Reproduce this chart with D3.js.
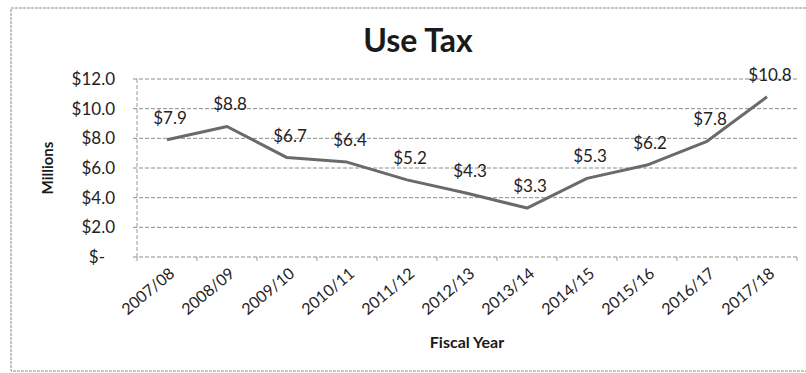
<!DOCTYPE html>
<html>
<head>
<meta charset="utf-8">
<script src="https://cdn.jsdelivr.net/npm/d3@7"></script>
<style>
  body { margin: 0; background: #fff; }
  svg { display: block; font-family: Lato, "Open Sans", sans-serif; }
</style>
</head>
<body>
<div id="chart"></div>
<script>
// Use Tax data (millions)
const years = ["2007/08", "2008/09", "2009/10", "2010/11", "2011/12", "2012/13",
               "2013/14", "2014/15", "2015/16", "2016/17", "2017/18"];
const useTax = [7.9, 8.8, 6.7, 6.4, 5.2, 4.3, 3.3, 5.3, 6.2, 7.8, 10.8];
const yTicks = [0, 2, 4, 6, 8, 10, 12];

const W = 806, H = 373;
const margin = { top: 79, right: 9, bottom: 116, left: 137 };
const width = W - margin.left - margin.right;
const height = H - margin.top - margin.bottom;

const svg = d3.select("#chart").append("svg")
    .attr("width", W)
    .attr("height", H);

// outer frame (right edge is cropped off in the original)
svg.append("path")
    .attr("d", "M" + W + ",8 H11 V371 H" + W)
    .attr("fill", "none")
    .attr("stroke", "#8a8a8a")
    .attr("stroke-width", 1)
    .attr("stroke-dasharray", "3,1");

const g = svg.append("g")
    .attr("transform", "translate(" + margin.left + "," + margin.top + ")");

const x = d3.scaleBand()
    .domain(years)
    .range([0, width]);

const y = d3.scaleLinear()
    .domain([0, 12])
    .range([height, 0]);

// gridlines
g.selectAll(".grid")
    .data(yTicks)
    .enter().append("line")
    .attr("class", "grid")
    .attr("x1", -4)
    .attr("x2", width)
    .attr("y1", d => y(d))
    .attr("y2", d => y(d))
    .attr("stroke", "#8c8c8c")
    .attr("stroke-width", 1)
    .attr("stroke-dasharray", "4,2");

// y axis line
g.append("line")
    .attr("x1", 0).attr("x2", 0)
    .attr("y1", 0).attr("y2", height)
    .attr("stroke", "#9a9a9a")
    .attr("stroke-dasharray", "4,2");

// y tick labels
g.selectAll(".ylab")
    .data(yTicks)
    .enter().append("text")
    .attr("class", "ylab")
    .attr("x", d => d === 0 ? -32 : -22)
    .attr("y", d => y(d))
    .attr("dy", "0.35em")
    .attr("text-anchor", "end")
    .attr("font-size", 17)
    .attr("fill", "#222")
    .text(d => d === 0 ? "$-" : "$" + d.toFixed(1));

// x axis tick marks at category boundaries
const bounds = years.map(d => x(d)).concat([width]);
g.selectAll(".xtick")
    .data(bounds)
    .enter().append("line")
    .attr("x1", d => d).attr("x2", d => d)
    .attr("y1", height).attr("y2", height + 4)
    .attr("stroke", "#9a9a9a");

// x tick labels
g.selectAll(".xlab")
    .data(years)
    .enter().append("text")
    .attr("class", "xlab")
    .attr("transform", d => "translate(" + (x(d) + x.bandwidth() / 2 + 5) + "," + (height + 14) + ") rotate(-40)")
    .attr("text-anchor", "end")
    .attr("dy", "0.35em")
    .attr("font-size", 16)
    .attr("fill", "#222")
    .text(d => d);

// line
const line = d3.line()
    .x((d, i) => x(years[i]) + x.bandwidth() / 2)
    .y(d => y(d));

g.append("path")
    .datum(useTax)
    .attr("d", line)
    .attr("fill", "none")
    .attr("stroke", "#6a6a6a")
    .attr("stroke-width", 3)
    .attr("stroke-linejoin", "round");

// data labels
g.selectAll(".vlab")
    .data(useTax)
    .enter().append("text")
    .attr("class", "vlab")
    .attr("x", (d, i) => x(years[i]) + x.bandwidth() / 2 + 3)
    .attr("y", d => y(d) - 16)
    .attr("text-anchor", "middle")
    .attr("font-size", 17)
    .attr("fill", "#222")
    .text(d => "$" + d.toFixed(1));

// title
svg.append("text")
    .attr("x", 418)
    .attr("y", 52)
    .attr("text-anchor", "middle")
    .attr("font-size", 32)
    .attr("font-weight", "bold")
    .attr("fill", "#1a1a1a")
    .text("Use Tax");

// axis titles
svg.append("text")
    .attr("transform", "translate(53," + (margin.top + height / 2) + ") rotate(-90)")
    .attr("text-anchor", "middle")
    .attr("font-size", 15)
    .attr("font-weight", "bold")
    .attr("fill", "#1a1a1a")
    .text("Millions");

svg.append("text")
    .attr("x", margin.left + width / 2)
    .attr("y", 348)
    .attr("text-anchor", "middle")
    .attr("font-size", 16)
    .attr("font-weight", "bold")
    .attr("fill", "#1a1a1a")
    .text("Fiscal Year");
</script>
</body>
</html>
